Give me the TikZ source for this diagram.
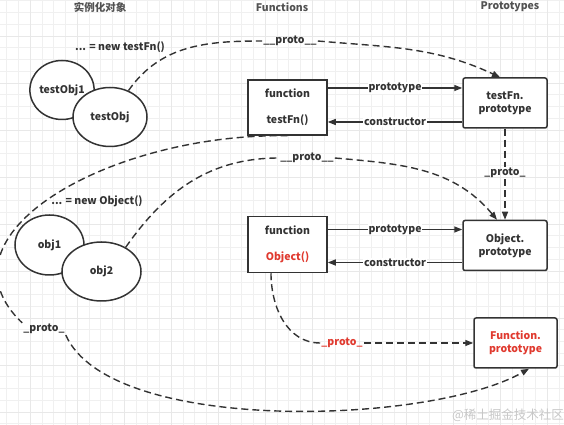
\documentclass[tikz,border=0pt]{standalone}
\usepackage{fontspec}
\setmainfont{Noto Sans CJK SC}
\newfontfamily\cjk{Noto Sans CJK SC}
\usepackage{tikz}
\usetikzlibrary{positioning,arrows.meta,shapes.geometric}
\definecolor{inkgray}{HTML}{333333}
\definecolor{protored}{HTML}{E03A2F}
\definecolor{gridgray}{HTML}{F0F0F0}

\begin{document}
\begin{tikzpicture}[
    x=1pt, y=1pt,
    node distance=80pt and 130pt,
    every node/.style={font=\fontsize{10.5}{13}\selectfont\bfseries, text=inkgray},
    fnbox/.style={rectangle, draw=inkgray, line width=1.5pt, fill=white,
                  minimum width=79pt, minimum height=55pt, align=center},
    protobox/.style={rectangle, draw=inkgray, line width=1.5pt, fill=white, rounded corners=2pt,
                  minimum width=84pt, minimum height=50pt, align=center},
    objnode/.style={ellipse, draw=inkgray, line width=1.5pt, fill=white, inner sep=0pt},
    conn/.style={-{Triangle[length=8pt,width=6pt]}, inkgray, line width=1.4pt},
    dashline/.style={inkgray, line width=1.4pt, dash pattern=on 7pt off 4pt},
    dashconn/.style={dashline, -{Triangle[length=8pt,width=6pt]}},
    plabel/.style={inner sep=1pt},
    head/.style={font=\fontsize{10.5}{13}\selectfont\bfseries, text=inkgray!85}
]
  \useasboundingbox (0,0) rectangle (564,425);
  % background grid
  \draw[gridgray, line width=0.5pt, shift={(30,13)}, step=11.75pt] (-30,-13) grid (534,412);
  \draw[black!9, line width=0.6pt, shift={(30,13)}, step=47pt] (-30,-13) grid (534,412);

  % Column titles
  \node[head] (hInst) at (100,418) {\cjk 实例化对象};
  \node[head] (hFunc) at (282,418) {Functions};
  \node[head] (hProto) at (510,418) {Prototypes};

  % Instances
  \node (newTest) at (120,378) {... = new testFn()};
  \node[objnode, minimum width=64pt, minimum height=59pt] (testObjA) at (62,335) {testObj1};
  \node[objnode, minimum width=74pt, minimum height=59pt] (testObj) at (110,308) {testObj};
  \node (newObj) at (97,224) {... = new Object()};
  \node[objnode, minimum width=69pt, minimum height=60pt] (obj1) at (49.5,180) {obj1};
  \node[objnode, minimum width=79pt, minimum height=59pt] (obj2) at (101.5,153.5) {obj2};

  % Functions
  \node[fnbox] (fnTest) at (287.5,317.5) {function\\[13pt]testFn()};
  \node[fnbox, minimum height=56pt, below=80pt of fnTest] (fnObject)
    {function\\[13pt]\textcolor{protored}{Object()}};

  % Prototypes
  \node[protobox] (protoTest) at (505,322) {testFn.\\prototype};
  \node[protobox, below=91pt of protoTest] (protoObject) {Object.\\prototype};
  \node[protobox, minimum width=83pt] (protoFunction) at (515.5,82)
    {\textcolor{protored}{Function.}\\\textcolor{protored}{prototype}};

  % __proto__ labels
  \node[plabel] (pTop) at (290,384) {\_\_proto\_\_};
  \node[plabel] (pMid) at (307,267) {\_\_proto\_\_};
  \node[plabel] (pRight) at (505,252) {\_proto\_};
  \node[plabel] (pLeft) at (44,96) {\_proto\_};
  \node[plabel, text=protored] (pRed) at (342,82) {\_proto\_};

  % prototype / constructor links
  \draw[conn] ([yshift=19.5pt]fnTest.east) -- ([yshift=19.5pt]fnTest.east -| protoTest.west)
    node[midway, fill=white, inner sep=1pt] {prototype};
  \draw[conn] ([yshift=-14.5pt]fnTest.east -| protoTest.west) -- ([yshift=-14.5pt]fnTest.east)
    node[midway, fill=white, inner sep=1pt] {constructor};
  \draw[conn] ([yshift=15pt]fnObject.east) -- ([yshift=15pt]fnObject.east -| protoObject.west)
    node[midway, fill=white, inner sep=1pt] {prototype};
  \draw[conn] ([yshift=-18pt]fnObject.east -| protoObject.west) -- ([yshift=-18pt]fnObject.east)
    node[midway, fill=white, inner sep=1pt] {constructor};

  % __proto__ chains
  \draw[dashline] (testObj.55) to[out=55,in=180] (pTop.west);
  \draw[dashconn] (pTop.east) to[out=-5,in=155] ([xshift=-5pt]protoTest.north);
  \draw[dashline] (obj2.45) to[out=55,in=180] (pMid.west);
  \draw[dashconn] (pMid.east) to[out=-5,in=130] ([xshift=-8pt]protoObject.north);
  \draw[dashline] (protoTest.south) -- (pRight.north);
  \draw[dashconn] (pRight.south) -- (protoObject.north);
  \draw[dashline] (fnTest.south) .. controls (110,292) and (-70,190) .. (pLeft.north west);
  \draw[dashconn] (pLeft.south east) .. controls (110,-10) and (430,0) .. ([xshift=13.5pt]protoFunction.south);
  \draw[dashline] ([xshift=-16.5pt]fnObject.south) to[out=-90,in=180] (pRed.west);
  \draw[dashconn] (pRed.east) -- (protoFunction.west);

  % watermark
  \node[font=\fontsize{12.5}{14}\selectfont, text=black!22] (mark) at (508,10) {@\cjk 稀土掘金技术社区};
\end{tikzpicture}
\end{document}
